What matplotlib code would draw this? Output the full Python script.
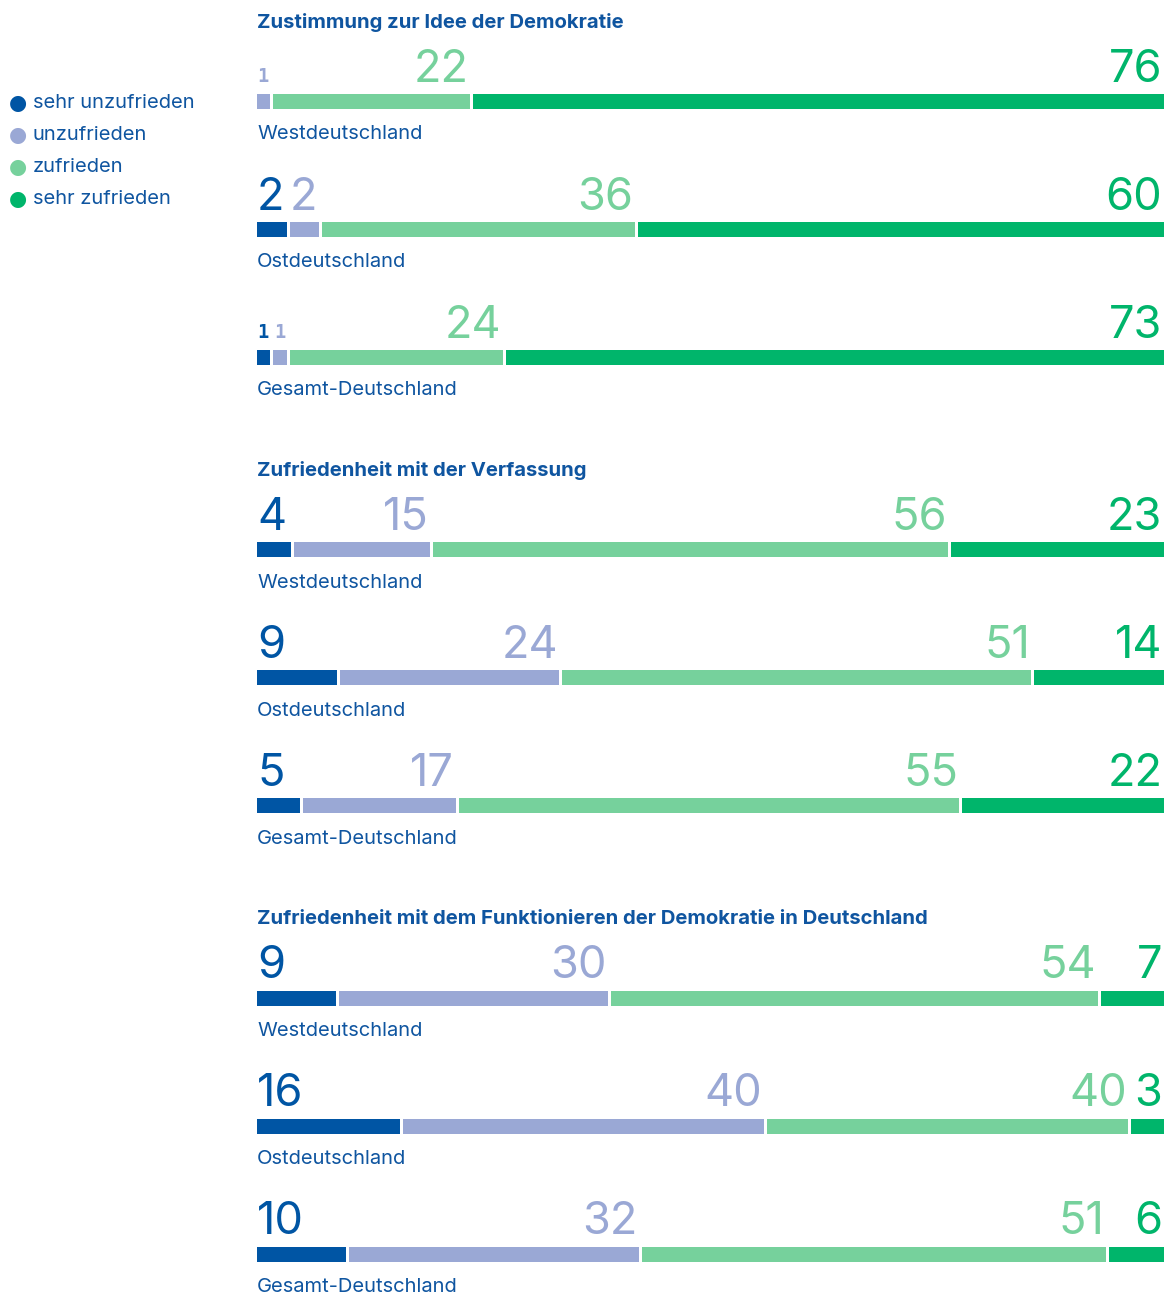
import matplotlib
matplotlib.use("Agg")
import matplotlib.pyplot as plt

titles = ["Zustimmung zur Idee der Demokratie",
          "Zufriedenheit mit der Verfassung",
          "Zufriedenheit mit dem Funktionieren der Demokratie in Deutschland"]
regions = ["Westdeutschland", "Ostdeutschland", "Gesamt-Deutschland"]
categories = ["sehr unzufrieden", "unzufrieden", "zufrieden", "sehr zufrieden"]
colors = ["#0055a4", "#9aa8d5", "#76d19c", "#00b56b"]

idee = [[0, 1, 22, 76], [2, 2, 36, 60], [1, 1, 24, 73]]
verfassung = [[4, 15, 56, 23], [9, 24, 51, 14], [5, 17, 55, 22]]
funktion = [[9, 30, 54, 7], [16, 40, 40, 3], [10, 32, 51, 6]]
groups = [idee, verfassung, funktion]

text_blue = "#0f55a0"
W, H = 1172, 1295
x0, x1 = 257, 1164
FONT = "Inter"

fig = plt.figure(figsize=(W / 100, H / 100), dpi=100)
ax = fig.add_axes([x0 / W, 0, (x1 - x0) / W, 1])
ax.set_xlim(0, 100)
ax.set_ylim(H, 0)
ax.axis("off")
renderer = fig.canvas.get_renderer()

px = 100 / (x1 - x0)   # data units per pixel
gap = 3 * px
bar_h = 15


def number_label(y, v, color, first):
    ha = "left" if first else "right"
    if v <= 1:
        return ax.text(0, y, str(v), color=color, fontsize=13.5, fontweight="bold",
                       family="DejaVu Sans Mono", ha=ha, va="baseline")
    return ax.text(0, y, str(v), color=color, fontsize=32.5, family=FONT,
                   ha=ha, va="baseline")


for g, (title, rows) in enumerate(zip(titles, groups)):
    yc0 = 101 + g * 448.5
    ax.text(0, yc0 - 79, title, color=text_blue, fontsize=14.6, fontweight="bold",
            family=FONT, va="center", ha="left")
    for r, (region, vals) in enumerate(zip(regions, rows)):
        yc = yc0 + r * 128
        # labels first, to know the minimum width of each segment
        labels = [number_label(yc - bar_h / 2 - 12, v, c, i == 0) if v > 0 else None
                  for i, (v, c) in enumerate(zip(vals, colors))]
        minw = [0 if t is None else t.get_window_extent(renderer).width * px + gap + 2 * px
                for t in labels]
        total = sum(vals)
        widths = [v / total * 100 for v in vals]
        fixed = [w < m for w, m in zip(widths, minw)]
        free = 100 - sum(m for m, f in zip(minw, fixed) if f)
        flex_sum = sum(v for v, f in zip(vals, fixed) if not f)
        widths = [m if f else v / flex_sum * free
                  for v, m, f in zip(vals, minw, fixed)]
        left = 0
        last = max(i for i, v in enumerate(vals) if v > 0)
        for i, (w, c) in enumerate(zip(widths, colors)):
            if vals[i] == 0:
                continue
            bw = w if i == last else w - gap
            ax.barh(yc, bw, left=left, height=bar_h, color=c, linewidth=0)
            labels[i].set_x(left if i == 0 else left + bw - 1.5 * px)
            left += w
        ax.text(0, yc + 33, region, color=text_blue, fontsize=14.5,
                family=FONT, va="center", ha="left")

for i, (cat, c) in enumerate(zip(categories, colors)):
    y = 1 - (103 + i * 32) / H
    fig.text(9 / W, y, "\u25cf", color=c, fontsize=15, va="center", ha="left",
             family="DejaVu Sans")
    fig.text(33 / W, y, cat, color=text_blue, fontsize=14.5, va="center", ha="left",
             family=FONT)

fig.savefig("out.png", dpi=100)
